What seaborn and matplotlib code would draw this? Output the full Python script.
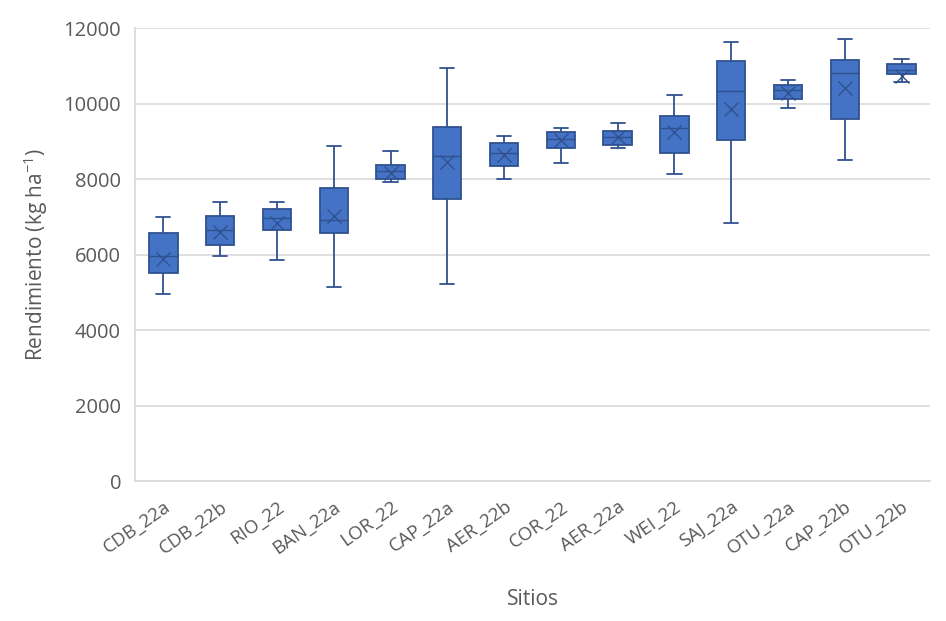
import matplotlib
matplotlib.use('Agg')
import matplotlib.pyplot as plt
import seaborn as sns
import pandas as pd

# datos (kg/ha)
sitios = ['CDB_22a', 'CDB_22b', 'RIO_22', 'BAN_22a', 'LOR_22', 'CAP_22a', 'AER_22b',
          'COR_22', 'AER_22a', 'WEI_22', 'SAJ_22a', 'OTU_22a', 'CAP_22b', 'OTU_22b']
minimos = [4950, 5950, 5850, 5140, 7910, 5230, 7990, 8420, 8830, 8140, 6840, 9890, 8500, 10560]
q1 = [5500, 6250, 6650, 6560, 7990, 7470, 8350, 8830, 8900, 8680, 9030, 10130, 9600, 10780]
medianas = [5960, 6650, 6960, 6910, 8220, 8620, 8680, 9050, 9100, 9350, 10320, 10360, 10820, 10900]
q3 = [6560, 7030, 7210, 7770, 8360, 9380, 8960, 9240, 9280, 9680, 11130, 10490, 11140, 11050]
maximos = [7000, 7380, 7400, 8870, 8730, 10930, 9130, 9360, 9480, 10230, 11620, 10610, 11710, 11180]
medias = [5880, 6590, 6840, 7020, 8170, 8460, 8640, 9030, 9100, 9250, 9850, 10290, 10400, 10730]

filas = []
for i, s in enumerate(sitios):
    for v in (minimos[i], q1[i], medianas[i], q3[i], maximos[i]):
        filas.append({'Sitios': s, 'Rendimiento': v})
df = pd.DataFrame(filas)

sns.set_theme(style='white')
plt.rcParams['font.family'] = ['Open Sans', 'DejaVu Sans']
plt.rcParams['mathtext.default'] = 'regular'

azul = '#4472C4'
borde = '#2F528F'
gris = '#595959'

fig = plt.figure(figsize=(9.46, 6.21), dpi=100)
ax = fig.add_axes([0.1427, 0.2254, 0.8403, 0.7295])

sns.boxplot(data=df, x='Sitios', y='Rendimiento', order=sitios, whis=(0, 100),
            width=0.5, color=azul, linecolor=borde, linewidth=1.3,
            saturation=1, showfliers=False, ax=ax,
            boxprops={'facecolor': azul, 'edgecolor': borde},
            medianprops={'color': borde, 'linewidth': 1.0})
sns.pointplot(x=sitios, y=medias, order=sitios, linestyle='none', marker='x',
              color=borde, markersize=10, markeredgewidth=1.0, errorbar=None, ax=ax)

ax.set_ylim(0, 12000)
ax.set_xlim(-0.5, len(sitios) - 0.5)
ax.set_yticks(range(0, 12001, 2000))
ax.yaxis.grid(True, color='#D9D9D9', linewidth=1.2)
ax.set_axisbelow(True)
for lado in ['top', 'right']:
    ax.spines[lado].set_visible(False)
ax.spines['left'].set_color('#D9D9D9')
ax.spines['bottom'].set_color('#D9D9D9')
ax.spines['bottom'].set_linewidth(1.2)
ax.tick_params(axis='both', length=0)
ax.tick_params(axis='y', labelsize=14.5, labelcolor=gris, pad=10)
ax.tick_params(axis='x', labelsize=13.5, labelcolor=gris, pad=12)
for t in ax.get_xticklabels():
    t.set_rotation(35)
    t.set_ha('right')
    t.set_rotation_mode('anchor')

ax.set_xlabel('Sitios', fontsize=15, color=gris, labelpad=22)
ax.set_ylabel('Rendimiento (kg ha$^{-1}$)', fontsize=15, color=gris, labelpad=10)

fig.savefig('out.png', dpi=100)
